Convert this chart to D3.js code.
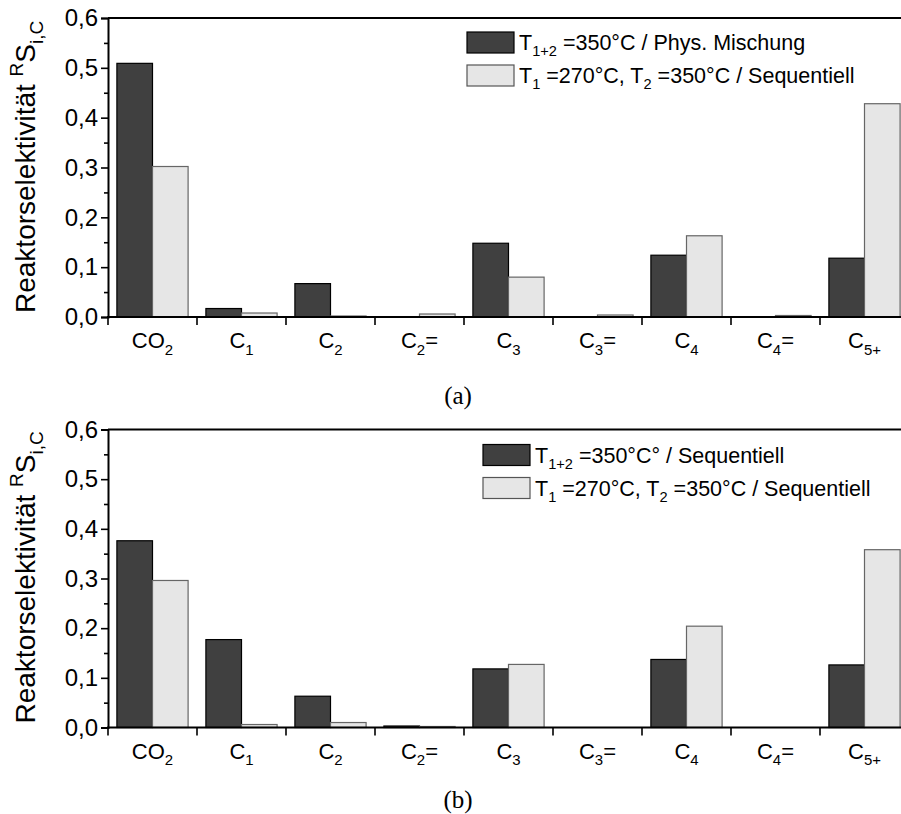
<!DOCTYPE html>
<html>
<head>
<meta charset="utf-8">
<script src="https://cdn.jsdelivr.net/npm/d3@7/dist/d3.min.js"></script>
<style>
  html, body { margin: 0; padding: 0; background: #fff; }
  svg { display: block; }
</style>
</head>
<body>
<svg id="chart" width="901" height="814"></svg>
<script>
// Product groups (markup: _{..} subscript, ^{..} superscript)
const categories = ["CO_{2}", "C_{1}", "C_{2}", "C_{2}=", "C_{3}", "C_{3}=", "C_{4}", "C_{4}=", "C_{5+}"];

// Panel (a): reactor selectivities
const seriesA1 = [0.509, 0.017, 0.067, 0.000, 0.148, 0.000, 0.124, 0.000, 0.118];
const seriesA2 = [0.302, 0.008, 0.002, 0.006, 0.080, 0.004, 0.163, 0.003, 0.428];
const legendA = ["T_{1+2} =350°C / Phys. Mischung", "T_{1} =270°C, T_{2} =350°C / Sequentiell"];

// Panel (b): reactor selectivities
const seriesB1 = [0.376, 0.177, 0.063, 0.003, 0.118, 0.000, 0.137, 0.000, 0.126];
const seriesB2 = [0.296, 0.006, 0.010, 0.002, 0.127, 0.000, 0.204, 0.000, 0.358];
const legendB = ["T_{1+2} =350°C° / Sequentiell", "T_{1} =270°C, T_{2} =350°C / Sequentiell"];

const yTickValues = [0, 0.1, 0.2, 0.3, 0.4, 0.5, 0.6];
const yTickLabels = ["0,0", "0,1", "0,2", "0,3", "0,4", "0,5", "0,6"];
const yMinorValues = [0.05, 0.15, 0.25, 0.35, 0.45, 0.55];
const yAxisTitle = "Reaktorselektivität ^{R}S_{i,C}";
const captions = ["(a)", "(b)"];

const SANS = "'Liberation Sans', Arial, Helvetica, sans-serif";
const SERIF = "'Liberation Serif', 'Times New Roman', serif";
const DARK = "#404040", LIGHT = "#e6e6e6";

const svg = d3.select("#chart");

// Writes a string with _{sub} / ^{sup} markup into a <text> element as tspans
function richText(textSel, str, fs) {
  const parts = [];
  const re = /([_^])\{([^}]*)\}/g;
  let last = 0, m;
  while ((m = re.exec(str)) !== null) {
    if (m.index > last) parts.push({ t: str.slice(last, m.index), k: "n" });
    parts.push({ t: m[2], k: m[1] === "_" ? "sub" : "sup" });
    last = re.lastIndex;
  }
  if (last < str.length) parts.push({ t: str.slice(last), k: "n" });
  let shift = 0;
  parts.forEach(p => {
    const target = p.k === "sub" ? 0.3 * fs : p.k === "sup" ? -0.42 * fs : 0;
    textSel.append("tspan")
      .attr("dy", target - shift)
      .attr("font-size", p.k === "n" ? fs : fs * 0.68)
      .text(p.t);
    shift = target;
  });
}

function drawPanel(cfg) {
  const { top, bottom, left, right, s1, s2, legend, legendX, legendY, caption, captionY } = cfg;
  const g = svg.append("g");

  const x = d3.scaleBand().domain(categories).range([left, right]).padding(0);
  const inner = d3.scaleBand().domain(["s1", "s2"]).range([0, x.bandwidth()])
    .paddingInner(0).paddingOuter(0.25);
  const y = d3.scaleLinear().domain([0, 0.6]).range([bottom, top]);

  // bars
  const rows = categories.map((c, i) => ({ c, s1: s1[i], s2: s2[i] }));
  const grp = g.append("g").selectAll("g").data(rows).join("g")
    .attr("transform", d => `translate(${x(d.c)},0)`);
  grp.append("rect")
    .attr("x", inner("s1")).attr("width", inner.bandwidth())
    .attr("y", d => y(d.s1)).attr("height", d => y(0) - y(d.s1))
    .attr("fill", DARK).attr("stroke", "#000").attr("stroke-width", 1.2);
  grp.append("rect")
    .attr("x", inner("s2")).attr("width", inner.bandwidth())
    .attr("y", d => y(d.s2)).attr("height", d => y(0) - y(d.s2))
    .attr("fill", LIGHT).attr("stroke", "#666").attr("stroke-width", 1.2);

  // left axis with major (labelled) and minor ticks
  const yAxis = g.append("g").attr("transform", `translate(${left},0)`)
    .call(d3.axisLeft(y).tickValues(yTickValues)
      .tickFormat((d, i) => yTickLabels[i]).tickSize(7).tickPadding(3));
  g.append("g").attr("transform", `translate(${left},0)`)
    .call(d3.axisLeft(y).tickValues(yMinorValues).tickFormat("").tickSize(4))
    .select(".domain").remove();
  // right frame with inward ticks
  g.append("g").attr("transform", `translate(${right},0)`)
    .call(d3.axisRight(y).tickValues(yTickValues).tickFormat("").tickSize(-8).tickSizeOuter(0));
  g.selectAll(".domain").attr("stroke", "#000").attr("stroke-width", 2);
  g.selectAll(".tick line").attr("stroke", "#000").attr("stroke-width", 1.6);
  yAxis.selectAll("text").attr("font-family", SANS).attr("font-size", 24).attr("fill", "#000");

  // top frame
  g.append("line").attr("x1", left).attr("x2", right).attr("y1", top).attr("y2", top)
    .attr("stroke", "#000").attr("stroke-width", 2);
  // bottom axis line and group separators
  g.append("line").attr("x1", left - 1).attr("x2", right).attr("y1", bottom).attr("y2", bottom)
    .attr("stroke", "#000").attr("stroke-width", 2);
  g.append("g").selectAll("line").data(categories).join("line")
    .attr("x1", d => x(d)).attr("x2", d => x(d))
    .attr("y1", bottom).attr("y2", bottom + 8)
    .attr("stroke", "#000").attr("stroke-width", 1.6);

  // category labels
  categories.forEach(c => {
    const t = g.append("text")
      .attr("x", x(c) + x.bandwidth() / 2).attr("y", bottom + 31)
      .attr("text-anchor", "middle").attr("font-family", SANS).attr("fill", "#000");
    richText(t, c, 22);
  });

  // y-axis title
  const yt = g.append("text")
    .attr("transform", `translate(${left - 73},${bottom - 4}) rotate(-90)`)
    .attr("font-family", SANS).attr("fill", "#000");
  richText(yt, yAxisTitle, 28);

  // legend
  const fills = [DARK, LIGHT], strokes = ["#000", "#555"];
  legend.forEach((lab, i) => {
    const ly = legendY + i * 33;
    g.append("rect").attr("x", legendX).attr("y", ly - 10.5)
      .attr("width", 47).attr("height", 21)
      .attr("fill", fills[i]).attr("stroke", strokes[i]).attr("stroke-width", 1.2);
    const t = g.append("text").attr("x", legendX + 52).attr("y", ly + 7.5)
      .attr("font-family", SANS).attr("fill", "#000");
    richText(t, lab, 21.5);
  });

  // panel caption
  svg.append("text").attr("x", 458).attr("y", captionY)
    .attr("text-anchor", "middle").attr("font-family", SERIF)
    .attr("font-size", 25).attr("fill", "#000").text(caption);
}

drawPanel({ top: 18, bottom: 317, left: 108, right: 909, s1: seriesA1, s2: seriesA2,
  legend: legendA, legendX: 467, legendY: 42.5, caption: captions[0], captionY: 404 });
drawPanel({ top: 429.5, bottom: 727.5, left: 108, right: 909, s1: seriesB1, s2: seriesB2,
  legend: legendB, legendX: 483, legendY: 455, caption: captions[1], captionY: 808 });
</script>
</body>
</html>
